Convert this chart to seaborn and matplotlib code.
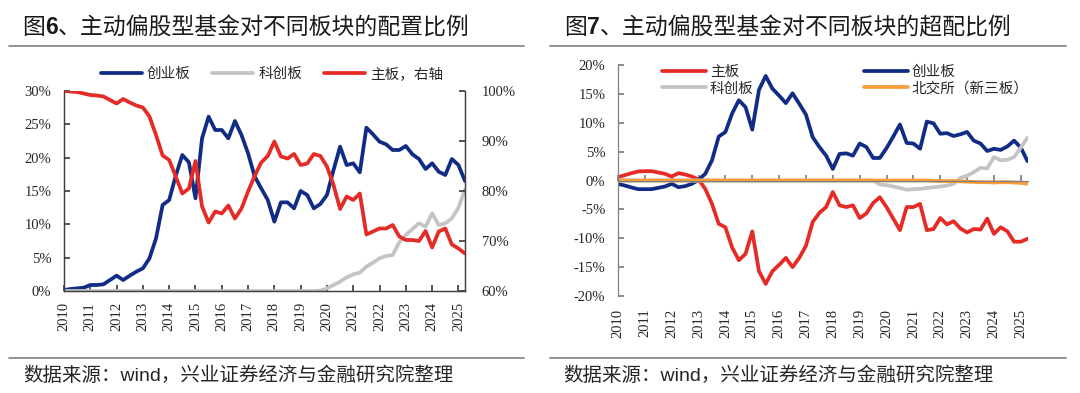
import numpy as np
import pandas as pd
import matplotlib.pyplot as plt
import matplotlib.ticker as mticker
from matplotlib.lines import Line2D
import seaborn as sns

# --- Data (quarterly, 2010Q1 .. 2025Q2) ---
years = list(range(2010, 2026))

# Fig 6: allocation share (%); 主板 is on the right axis
gem_alloc = [0.15, 0.3, 0.4, 0.5, 0.9, 0.9, 1.0, 1.65, 2.3, 1.65,
             2.3, 2.9, 3.4, 4.9, 7.9, 12.9, 13.65, 17.3, 20.4, 19.3,
             13.9, 22.9, 26.15, 24.15, 24.15, 22.9, 25.5, 23.4, 20.65, 17.2,
             15.4, 13.65, 10.4, 13.3, 13.3, 12.4, 15.0, 14.4, 12.4, 13.05,
             14.4, 18.15, 21.65, 18.9, 19.15, 17.8, 24.5, 23.5, 22.4, 22.0,
             21.15, 21.15, 21.75, 20.5, 19.8, 18.3, 19.15, 17.9, 17.4, 19.8,
             18.9, 16.5]
star_alloc = [0.0] * 39 + [0.05, 0.4, 0.9, 1.4, 2.05, 2.5, 2.75, 3.65, 4.25, 4.9,
                           5.25, 5.4, 7.3, 8.4, 9.3, 10.15, 9.65, 11.65, 9.9, 10.15,
                           10.9, 12.5, 15.2]
main_alloc = [100.0, 99.9, 99.8, 99.5, 99.2, 99.1, 98.9, 98.2, 97.5, 98.4,
              97.7, 97.1, 96.7, 94.9, 91.2, 87.1, 86.2, 82.9, 79.5, 80.5,
              86.0, 76.9, 73.7, 75.9, 75.5, 77.1, 74.5, 76.5, 79.9, 83.0,
              85.7, 87.0, 89.9, 86.9, 86.5, 87.4, 85.2, 85.5, 87.4, 87.0,
              84.9, 81.2, 76.4, 78.9, 78.2, 79.5, 71.3, 71.9, 72.5, 72.5,
              73.2, 70.9, 70.2, 70.2, 70.0, 72.0, 68.7, 71.9, 72.5, 69.3,
              68.5, 67.5]

# Fig 7: overweight (%)
main_over = [0.58, 0.92, 1.27, 1.56, 1.62, 1.62, 1.39, 1.16, 0.69, 1.27,
             1.04, 0.69, 0.17, -1.45, -4.05, -7.5, -8.1, -11.6, -13.8, -12.7,
             -8.8, -15.7, -17.9, -15.7, -14.6, -13.4, -15.0, -13.4, -11.3, -7.2,
             -5.6, -4.6, -2.0, -4.3, -4.6, -4.3, -6.5, -5.7, -3.9, -2.9,
             -4.6, -6.6, -8.6, -4.6, -4.6, -4.05, -8.6, -8.4, -6.5, -7.6,
             -7.05, -8.3, -9.0, -8.4, -8.5, -6.6, -9.25, -8.1, -8.8, -10.6,
             -10.6, -10.1]
gem_over = [-0.58, -0.87, -1.2, -1.5, -1.5, -1.5, -1.27, -1.04, -0.58, -1.16,
            -0.98, -0.58, 0.12, 1.16, 3.5, 7.6, 8.4, 11.6, 13.9, 12.7,
            8.8, 15.7, 18.1, 15.9, 14.7, 13.4, 15.1, 13.3, 11.4, 7.5,
            5.8, 4.3, 2.0, 4.6, 4.7, 4.3, 6.4, 5.8, 3.9, 3.9,
            5.6, 7.6, 9.7, 6.5, 6.4, 5.5, 10.2, 9.9, 8.1, 8.2,
            7.7, 8.0, 8.4, 6.9, 6.4, 5.1, 5.5, 5.3, 5.9, 6.9,
            5.7, 3.35]
star_over = [0.0] * 39 + [-0.7, -0.8, -1.04, -1.3, -1.6, -1.5, -1.45, -1.3, -1.16, -1.04,
                          -0.87, -0.58, 0.46, 0.8, 1.45, 2.2, 2.1, 4.05, 3.5, 3.6,
                          4.05, 5.7, 7.4]
bse_over = [0.0] * 47 + [-0.05, -0.1, -0.1, -0.1, -0.15, -0.2, -0.25, -0.3, -0.3,
                         -0.35, -0.3, -0.3, -0.35, -0.4, -0.55]

q = np.arange(len(gem_alloc))
df6 = pd.DataFrame({'q': q, '创业板': gem_alloc, '科创板': star_alloc, '主板': main_alloc})
df7 = pd.DataFrame({'q': q, '主板': main_over, '创业板': gem_over,
                    '科创板': star_over, '北交所': bse_over})

# --- Style ---
sns.set_theme(style='white')
plt.rcParams['font.family'] = ['Liberation Serif', 'Noto Sans CJK SC', 'DejaVu Sans']
CJK = ['Noto Sans CJK SC', 'DejaVu Sans']
SANS_CJK = ['Liberation Sans', 'Noto Sans CJK SC', 'DejaVu Sans']

BLUE = '#102C85'
RED = '#E42B26'
GRAY = '#C4C4C4'
ORANGE = '#F99D38'
LW = 2.7
TICK_FS = 10.5

W, H = 1080, 393
fig = plt.figure(figsize=(W / 100, H / 100), dpi=100)


def fx(px):
    return px / W


def fy(py):
    return 1 - py / H


pct = mticker.FuncFormatter(lambda v, _: f'{v:.0f}%')
xticks = q[::4][:len(years)]

# --- Fig 6 ---
ax1 = fig.add_axes([fx(64), fy(291), fx(465) - fx(64), fy(91) - fy(291)])
ax1r = ax1.twinx()
sns.lineplot(data=df6, x='q', y='创业板', ax=ax1, color=BLUE, linewidth=LW)
sns.lineplot(data=df6, x='q', y='科创板', ax=ax1, color=GRAY, linewidth=LW)
sns.lineplot(data=df6, x='q', y='主板', ax=ax1r, color=RED, linewidth=LW)

ax1.set_xlim(0, q[-1])
ax1.set_ylim(0, 30)
ax1.set_yticks(range(0, 31, 5))
ax1.yaxis.set_major_formatter(pct)
ax1r.set_ylim(60, 100)
ax1r.set_yticks(range(60, 101, 10))
ax1r.yaxis.set_major_formatter(pct)
ax1.set_xticks(xticks, [str(y) for y in years], rotation=90)
for a in (ax1, ax1r):
    a.set_xlabel('')
    a.set_ylabel('')
    a.spines['top'].set_visible(False)
    for s in ('left', 'right', 'bottom'):
        a.spines[s].set_color('#404040')
        a.spines[s].set_linewidth(0.9)
ax1.tick_params(axis='y', direction='in', length=4, color='#404040', labelsize=TICK_FS, pad=9, left=True)
ax1.tick_params(axis='x', direction='in', length=4, color='#404040', labelsize=TICK_FS, pad=8, bottom=True)
ax1r.tick_params(axis='y', direction='in', length=4, color='#404040', labelsize=TICK_FS, pad=12, right=True)

fig.legend([Line2D([], [], color=c, lw=LW) for c in (BLUE, GRAY, RED)],
           ['创业板', '科创板', '主板，右轴'],
           loc='center', bbox_to_anchor=(fx(272), fy(74)), ncol=3, frameon=False,
           prop={'family': CJK, 'size': 10.5}, handlelength=2.8, handletextpad=0.35,
           columnspacing=1.5, borderpad=0)

# --- Fig 7 ---
ax2 = fig.add_axes([fx(618), fy(296), fx(1027.5) - fx(618), fy(65) - fy(296)])
sns.lineplot(data=df7, x='q', y='主板', ax=ax2, color=RED, linewidth=LW)
sns.lineplot(data=df7, x='q', y='创业板', ax=ax2, color=BLUE, linewidth=LW)
sns.lineplot(data=df7, x='q', y='科创板', ax=ax2, color=GRAY, linewidth=LW)
sns.lineplot(data=df7, x='q', y='北交所', ax=ax2, color=ORANGE, linewidth=LW)

ax2.set_xlim(0, q[-1])
ax2.set_ylim(-20, 20)
ax2.set_yticks(range(-20, 21, 5))
ax2.yaxis.set_major_formatter(pct)
ax2.set_xlabel('')
ax2.set_ylabel('')
ax2.spines['top'].set_visible(False)
ax2.spines['right'].set_visible(False)
ax2.spines['bottom'].set_position(('data', 0))
for s in ('left', 'bottom'):
    ax2.spines[s].set_color('#7f7f7f')
    ax2.spines[s].set_linewidth(0.9)
ax2.set_xticks(xticks)
ax2.tick_params(axis='x', direction='in', length=4, color='#7f7f7f', labelbottom=False, bottom=True)
ax2.tick_params(axis='y', direction='in', length=4, color='#7f7f7f', labelsize=TICK_FS, pad=9, left=True)

# year labels sit below the plot while the ticks stay on the zero line
sec = ax2.secondary_xaxis('bottom')
sec.set_xticks(xticks)
sec.set_xticklabels([str(y) for y in years], rotation=90)
sec.tick_params(length=0, pad=9, labelsize=TICK_FS)
sec.spines['bottom'].set_visible(False)

fig.legend([Line2D([], [], color=c, lw=LW) for c in (RED, GRAY, BLUE, ORANGE)],
           ['主板', '科创板', '创业板', '北交所（新三板）'],
           loc='upper left', bbox_to_anchor=(fx(655), fy(58)), ncol=2, frameon=False,
           prop={'family': CJK, 'size': 10.5}, handlelength=3.0, handletextpad=0.25,
           columnspacing=7.6, labelspacing=0.15, borderpad=0)


# --- Titles, separators, sources ---
def title(ax, x_px, num, rest):
    t0 = fig.text(fx(x_px), fy(28), '图', family=CJK, fontsize=16.5, color='#1a1a1a', va='center')
    a1 = ax.annotate(num, xy=(1, 0), xycoords=t0, va='bottom', ha='left', annotation_clip=False,
                     fontsize=16.5, family=['Liberation Sans'], fontweight='bold', color='#1a1a1a')
    ax.annotate(rest, xy=(1, 0), xycoords=a1, va='bottom', ha='left', annotation_clip=False,
                fontsize=16.5, family=CJK, color='#1a1a1a')


title(ax1, 22, '6', '、主动偏股型基金对不同板块的配置比例')
title(ax2, 564, '7', '、主动偏股型基金对不同板块的超配比例')

for x0, x1 in ((9, 524), (550, 1066)):
    fig.add_artist(Line2D([fx(x0), fx(x1)], [fy(46), fy(46)], color='#8a8a8a', lw=1.3))
    fig.add_artist(Line2D([fx(x0), fx(x1)], [fy(358), fy(358)], color='#8a8a8a', lw=1.3))

for x0 in (23, 563):
    fig.text(fx(x0), fy(376), '数据来源：wind，兴业证券经济与金融研究院整理',
             family=SANS_CJK, fontsize=14, color='#262626', va='center')

fig.savefig('out.png', dpi=100)
